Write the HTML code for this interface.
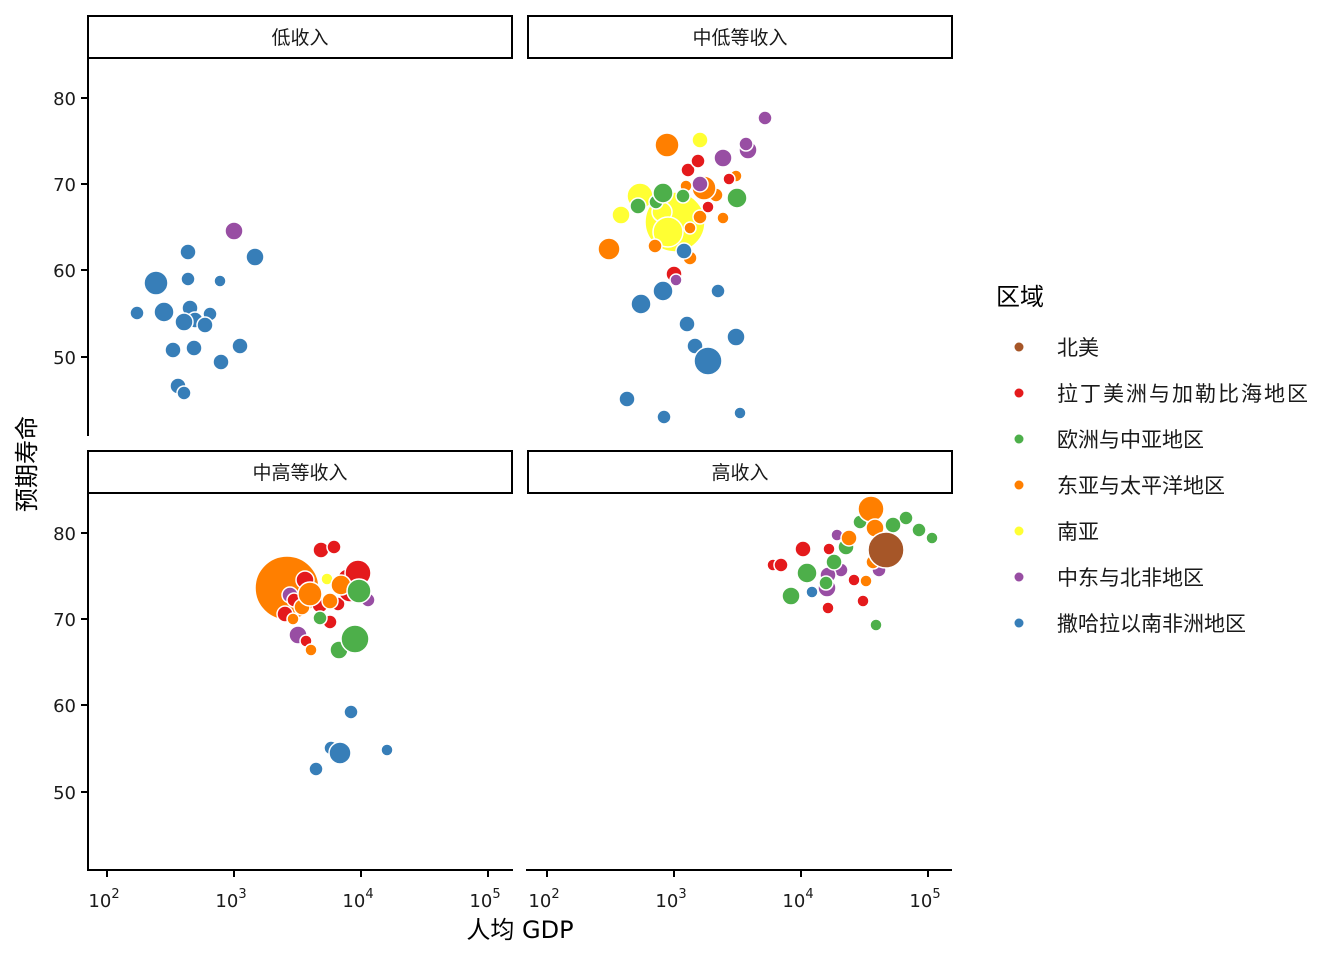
<!DOCTYPE html>
<html><head><meta charset="utf-8"><style>
body{margin:0;background:#fff}
svg text{font-family:"DejaVu Sans","Noto Sans CJK SC",sans-serif}
</style></head><body>
<svg width="1344" height="960" xmlns="http://www.w3.org/2000/svg">
<g fill="none" stroke="#000" stroke-width="2">
<rect x="88" y="16" width="424" height="42"/>
<rect x="528" y="16" width="424" height="42"/>
<rect x="88" y="451" width="424" height="42"/>
<rect x="528" y="451" width="424" height="42"/>
<line x1="88" y1="58" x2="88" y2="436"/>
<line x1="88" y1="493" x2="88" y2="871"/>
<line x1="87" y1="870" x2="513" y2="870"/>
<line x1="526" y1="870" x2="952" y2="870"/>
<path d="M81 98H88M81 184H88M81 270H88M81 357H88M81 533H88M81 619H88M81 705H88M81 792H88"/>
<path d="M107 870V877M234 870V877M361 870V877M488 870V877M547 870V877M674 870V877M801 870V877M928 870V877"/>
</g>
<g font-size="19" text-anchor="middle" fill="#1a1a1a">
<text x="300" y="44">低收入</text><text x="740" y="44">中低等收入</text>
<text x="300" y="479">中高等收入</text><text x="740" y="479">高收入</text>
</g>
<g font-size="18" text-anchor="end" fill="#1a1a1a">
<text x="76" y="105">80</text><text x="76" y="191">70</text><text x="76" y="277">60</text><text x="76" y="364">50</text>
<text x="76" y="540">80</text><text x="76" y="626">70</text><text x="76" y="712">60</text><text x="76" y="799">50</text>
</g>
<g font-size="18" text-anchor="middle" fill="#1a1a1a">
<text x="104" y="907">10<tspan font-size="13" dy="-9">2</tspan></text>
<text x="231" y="907">10<tspan font-size="13" dy="-9">3</tspan></text>
<text x="358" y="907">10<tspan font-size="13" dy="-9">4</tspan></text>
<text x="485" y="907">10<tspan font-size="13" dy="-9">5</tspan></text>
<text x="544" y="907">10<tspan font-size="13" dy="-9">2</tspan></text>
<text x="671" y="907">10<tspan font-size="13" dy="-9">3</tspan></text>
<text x="798" y="907">10<tspan font-size="13" dy="-9">4</tspan></text>
<text x="925" y="907">10<tspan font-size="13" dy="-9">5</tspan></text>
</g>
<text x="520" y="938" font-size="24" text-anchor="middle">人均 GDP</text>
<text transform="translate(35,464) rotate(-90)" font-size="24" text-anchor="middle">预期寿命</text>
<g stroke="#fff" stroke-width="1.5">
<g fill="#377EB8">
<circle cx="156" cy="283" r="12"/><circle cx="164" cy="312" r="10"/><circle cx="137" cy="313" r="7"/><circle cx="188" cy="252" r="8"/><circle cx="188" cy="279" r="7"/><circle cx="220" cy="281" r="6"/><circle cx="255" cy="257" r="9"/><circle cx="190" cy="308" r="8"/><circle cx="210" cy="314" r="7"/><circle cx="195" cy="320" r="8"/><circle cx="205" cy="325" r="8"/><circle cx="184" cy="322" r="9"/><circle cx="173" cy="350" r="8"/><circle cx="194" cy="348" r="8"/><circle cx="240" cy="346" r="8"/><circle cx="221" cy="362" r="8"/><circle cx="178" cy="386" r="8"/><circle cx="184" cy="393" r="7"/>
<circle cx="641" cy="304" r="10"/><circle cx="663" cy="291" r="10"/><circle cx="718" cy="291" r="7"/><circle cx="687" cy="324" r="8"/><circle cx="695" cy="346" r="8"/><circle cx="736" cy="337" r="9"/><circle cx="627" cy="399" r="8"/><circle cx="664" cy="417" r="7"/><circle cx="740" cy="413" r="6"/>
<circle cx="351" cy="712" r="7"/><circle cx="331" cy="748" r="7"/><circle cx="387" cy="750" r="6"/><circle cx="316" cy="769" r="7"/><circle cx="340" cy="753" r="11"/>
<circle cx="812" cy="592" r="6"/>
</g>
<circle cx="234" cy="231" r="9" fill="#984EA3"/>
<g fill="#FFFF33"><circle cx="675" cy="222" r="30"/><circle cx="640" cy="196" r="13"/><circle cx="621" cy="215" r="9"/><circle cx="700" cy="140" r="8"/><circle cx="662" cy="212" r="10"/><circle cx="668" cy="232" r="15"/><circle cx="327" cy="579" r="6"/></g>
<g fill="#FF7F00"><circle cx="667" cy="145" r="12"/><circle cx="609" cy="249" r="11"/><circle cx="716" cy="195" r="7"/><circle cx="736" cy="176" r="6"/><circle cx="686" cy="186" r="6"/><circle cx="723" cy="218" r="6"/><circle cx="700" cy="217" r="7"/><circle cx="690" cy="258" r="7"/><circle cx="655" cy="246" r="7"/><circle cx="690" cy="228" r="6"/><circle cx="704" cy="188" r="12"/></g>
<g fill="#E41A1C"><circle cx="688" cy="170" r="7"/><circle cx="698" cy="161" r="7"/><circle cx="729" cy="179" r="6"/><circle cx="674" cy="274" r="8"/><circle cx="708" cy="207" r="6"/></g>
<g fill="#4DAF4A"><circle cx="638" cy="206" r="8"/><circle cx="656" cy="202" r="7"/><circle cx="663" cy="193" r="10"/><circle cx="737" cy="198" r="10"/><circle cx="683" cy="196" r="7"/></g>
<g fill="#984EA3"><circle cx="723" cy="158" r="9"/><circle cx="748" cy="150" r="9"/><circle cx="746" cy="144" r="7"/><circle cx="765" cy="118" r="7"/><circle cx="676" cy="280" r="6"/><circle cx="700" cy="184" r="8"/></g>
<circle cx="684" cy="251" r="8" fill="#377EB8"/><circle cx="708" cy="361" r="14" fill="#377EB8"/>
<circle cx="287" cy="588" r="32" fill="#FF7F00"/>
<g fill="#984EA3"><circle cx="290" cy="595" r="8"/><circle cx="368" cy="600" r="7"/><circle cx="298" cy="635" r="9"/></g>
<g fill="#E41A1C"><circle cx="321" cy="550" r="8"/><circle cx="334" cy="547" r="7"/><circle cx="305" cy="580" r="9"/><circle cx="294" cy="600" r="7"/><circle cx="285" cy="614" r="8"/><circle cx="320" cy="605" r="8"/><circle cx="330" cy="622" r="7"/><circle cx="338" cy="604" r="7"/><circle cx="306" cy="641" r="6"/><circle cx="347" cy="578" r="9"/><circle cx="350" cy="590" r="12"/><circle cx="358" cy="573" r="13"/></g>
<circle cx="312" cy="595" r="8" fill="#377EB8"/>
<g fill="#FF7F00"><circle cx="302" cy="607" r="8"/><circle cx="293" cy="619" r="6"/><circle cx="311" cy="650" r="6"/><circle cx="330" cy="601" r="8"/><circle cx="341" cy="585" r="10"/><circle cx="310" cy="594" r="12"/></g>
<g fill="#4DAF4A"><circle cx="339" cy="650" r="9"/><circle cx="320" cy="618" r="7"/><circle cx="359" cy="591" r="12"/><circle cx="355" cy="639" r="14"/></g>
<g fill="#E41A1C"><circle cx="803" cy="549" r="8"/><circle cx="773" cy="565" r="6"/><circle cx="781" cy="565" r="7"/><circle cx="829" cy="549" r="6"/><circle cx="828" cy="608" r="6"/><circle cx="863" cy="601" r="6"/><circle cx="854" cy="580" r="6"/></g>
<g fill="#984EA3"><circle cx="827" cy="588" r="9"/><circle cx="841" cy="570" r="7"/><circle cx="837" cy="535" r="6"/><circle cx="879" cy="570" r="7"/><circle cx="828" cy="575" r="8"/></g>
<g fill="#4DAF4A"><circle cx="906" cy="518" r="7"/><circle cx="919" cy="530" r="7"/><circle cx="932" cy="538" r="6"/><circle cx="893" cy="525" r="8"/><circle cx="846" cy="547" r="8"/><circle cx="807" cy="573" r="10"/><circle cx="791" cy="596" r="9"/><circle cx="826" cy="583" r="7"/><circle cx="876" cy="625" r="6"/><circle cx="834" cy="562" r="8"/><circle cx="860" cy="522" r="7"/></g>
<g fill="#FF7F00"><circle cx="871" cy="509" r="13"/><circle cx="875" cy="528" r="9"/><circle cx="866" cy="581" r="6"/><circle cx="849" cy="538" r="8"/><circle cx="873" cy="562" r="7"/></g>
<circle cx="886" cy="550" r="18" fill="#A65628"/>
</g>
<text x="996" y="305" font-size="24">区域</text>
<g font-size="21" fill="#1a1a1a">
<circle cx="1019" cy="347" r="4.5" fill="#A65628"/><text x="1057" y="355">北美</text>
<circle cx="1019" cy="393" r="4.5" fill="#E41A1C"/><text x="1057" y="401" textLength="251">拉丁美洲与加勒比海地区</text>
<circle cx="1019" cy="439" r="4.5" fill="#4DAF4A"/><text x="1057" y="447">欧洲与中亚地区</text>
<circle cx="1019" cy="485" r="4.5" fill="#FF7F00"/><text x="1057" y="493">东亚与太平洋地区</text>
<circle cx="1019" cy="531" r="4.5" fill="#FFFF33"/><text x="1057" y="539">南亚</text>
<circle cx="1019" cy="577" r="4.5" fill="#984EA3"/><text x="1057" y="585">中东与北非地区</text>
<circle cx="1019" cy="623" r="4.5" fill="#377EB8"/><text x="1057" y="631">撒哈拉以南非洲地区</text>
</g>
</svg>
</body></html>
